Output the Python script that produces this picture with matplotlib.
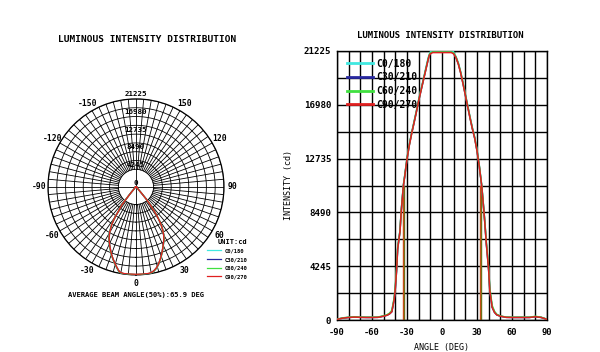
import numpy as np
import matplotlib
matplotlib.use("Agg")
import matplotlib.pyplot as plt

plt.rcParams['font.family'] = ['DejaVu Sans Mono']
plt.rcParams['font.weight'] = 'bold'

# photometric data (angle in deg, intensity in cd)
angles = [-90, -85, -80, -75, -70, -65, -60, -55, -50, -47, -45, -43, -41, -40,
          -39, -38, -37, -36, -35, -34, -33, -32, -30, -28, -26, -24, -22, -20,
          -18, -16, -14, -12, -11, -10, -8, -5, 0, 5, 8, 10, 11, 12, 14, 16, 18,
          20, 22, 24, 26, 28, 30, 32, 33, 34, 35, 36, 37, 38, 39, 40, 41, 43, 45,
          47, 50, 55, 60, 65, 70, 75, 80, 85, 90]

c0_180 = [60, 160, 210, 240, 220, 210, 210, 220, 320, 400, 500, 700, 1700, 2600,
          3900, 5700, 6400, 7100, 8600, 9700, 10750, 11400, 12800, 13900, 14800,
          15650, 16500, 17400, 18200, 19000, 19850, 20650, 20950, 21150, 21250,
          21250, 21250, 21250, 21250, 21150, 20950, 20800, 20300, 19600, 18750,
          17850, 16950, 16050, 15200, 14450, 13450, 12200, 11450, 10700, 9650,
          8600, 7400, 6100, 5100, 4000, 2400, 1050, 640, 430, 310, 220, 210, 210,
          210, 210, 270, 210, 60]
c30_210 = [50, 150, 200, 230, 210, 200, 200, 210, 300, 380, 480, 650, 1600, 2500,
           3800, 5600, 6300, 7000, 8500, 9600, 10650, 11300, 12700, 13800, 14720,
           15550, 16400, 17300, 18100, 18900, 19700, 20500, 20850, 21050, 21150,
           21150, 21150, 21150, 21150, 21050, 20850, 20700, 20200, 19500, 18650,
           17750, 16850, 15950, 15100, 14350, 13350, 12100, 11350, 10600, 9550,
           8500, 7300, 6000, 5000, 3900, 2300, 1000, 600, 400, 300, 210, 200, 200,
           200, 200, 260, 200, 50]
c60_240 = [60, 170, 220, 250, 230, 220, 220, 230, 330, 420, 540, 760, 1750, 2700,
           4000, 5750, 6350, 7050, 8550, 9650, 10700, 11350, 12750, 13850, 14750,
           15600, 16450, 17350, 18150, 18950, 19750, 20550, 20900, 21080, 21150,
           21150, 21150, 21150, 21150, 21080, 20900, 20750, 20250, 19550, 18700,
           17800, 16900, 16000, 15150, 14400, 13400, 12150, 11400, 10650, 9600,
           8550, 7400, 6150, 5150, 4050, 2500, 1150, 680, 440, 320, 230, 220, 220,
           220, 220, 290, 220, 60]
c90_270 = [50, 150, 200, 230, 210, 200, 200, 210, 300, 380, 480, 650, 1600, 2500,
           3800, 5600, 6300, 7000, 8500, 9600, 10650, 11300, 12700, 13800, 14720,
           15550, 16400, 17300, 18100, 18900, 19700, 20500, 20850, 21000, 21100,
           21100, 21100, 21100, 21100, 21000, 20850, 20700, 20200, 19500, 18650,
           17750, 16850, 15950, 15100, 14350, 13350, 12100, 11350, 10600, 9550,
           8500, 7300, 6000, 5000, 3900, 2300, 1000, 600, 400, 300, 210, 200, 200,
           200, 200, 260, 200, 50]

series_labels = ['C0/180', 'C30/210', 'C60/240', 'C90/270']
series_colors = ['#40e8e0', '#2828a0', '#40e040', '#e02020']

r_ticks = [4245, 8490, 12735, 16980, 21225]
r_max = 21225
polar_angle_labels = [-150, -120, -90, -60, -30, 0, 30, 60, 90, 120, 150]

beam_x = [-33.6, -33.0, 32.2, 33.0]
beam_colors = ['#d84818', '#707018', '#d84818', '#707018']
half_max = 10612

x_ticks = [-90, -60, -30, 0, 30, 60, 90]
beam_text = 'AVERAGE BEAM ANGLE(50%):65.9 DEG'

series = [c0_180, c30_210, c60_240, c90_270]

fig = plt.figure(figsize=(6.0, 3.52), dpi=100)

# ---------------- polar chart ----------------
axp = fig.add_axes([0.08, 0.219, 0.2933, 0.5], projection='polar')
axp.set_theta_zero_location('S')
axp.set_theta_direction(1)
axp.set_ylim(0, r_max)
axp.grid(False)
axp.set_xticks([])
axp.set_yticks([])
axp.spines['polar'].set_linewidth(0.9)

full = np.linspace(0, 2 * np.pi, 361)
rings = np.arange(2, 11) * r_max / 10
for r in rings:
    axp.plot(full, np.full_like(full, r), color='black', lw=0.6, zorder=1)
for a in range(0, 360, 5):
    t = np.deg2rad(a)
    axp.plot([t, t], [r_ticks[0], r_max], color='black', lw=0.6, zorder=1)
for a in (0, 90, 180, 270):
    t = np.deg2rad(a)
    axp.plot([t, t], [0, r_ticks[0]], color='black', lw=0.6, zorder=1)

theta = np.deg2rad(angles)
for vals, lab, col in zip(series, series_labels, series_colors):
    axp.plot(theta, vals, color=col, lw=1.0, label=lab, zorder=3)

for a in polar_angle_labels:
    axp.text(np.deg2rad(a), r_max * 1.1, str(a), ha='center', va='center',
             fontsize=5.8, clip_on=False)
for r in r_ticks:
    axp.text(np.pi, r + 1100, str(r), ha='center', va='center', fontsize=5.4,
             clip_on=False, zorder=4)
axp.text(np.pi, 900, '0', ha='center', va='center', fontsize=5.4, zorder=4)

leg = axp.legend(loc='upper left', bbox_to_anchor=(204 / 600, 1 - 236 / 352),
                 bbox_transform=fig.transFigure, frameon=False, fontsize=4.0,
                 title='UNIT:cd', title_fontproperties={'weight': 'bold', 'size': 5.0},
                 handlelength=2.6, handletextpad=0.6, labelspacing=0.65,
                 borderpad=0, alignment='right')
for line in leg.get_lines():
    line.set_linewidth(0.9)

fig.text(0.245, 1 - 39 / 352, 'LUMINOUS INTENSITY DISTRIBUTION', ha='center',
         va='center', fontsize=6.8)
fig.text(136 / 600, 1 - 295 / 352, beam_text, ha='center', va='center', fontsize=5.1)

# ---------------- cartesian chart ----------------
ax = fig.add_axes([337 / 600, 32 / 352, 210 / 600, 269 / 352])
for vals, lab, col in zip(series, series_labels, series_colors):
    ax.plot(angles, vals, color=col, lw=1.1, label=lab, zorder=3)
for bx, bc in zip(beam_x, beam_colors):
    ax.plot([bx, bx], [0, half_max], color=bc, lw=1.0, zorder=2)

ax.set_xlim(-90, 90)
ax.set_ylim(0, r_max)
ax.set_xticks(np.arange(-90, 91, 10))
ax.set_xticklabels([str(v) if v in x_ticks else '' for v in range(-90, 91, 10)])
ax.set_yticks(np.arange(11) * r_max / 10)
ax.set_yticklabels(['0' if i == 0 else (str(r_ticks[i // 2 - 1]) if i % 2 == 0 else '')
                    for i in range(11)])
ax.tick_params(length=0, labelsize=6.6, pad=4)
ax.tick_params(axis='x', labelsize=6.3, pad=6)
ax.grid(True, color='black', lw=1.0)
for s in ax.spines.values():
    s.set_linewidth(1.0)
ax.set_xlabel('ANGLE (DEG)', fontsize=6, labelpad=4)
ax.set_ylabel('INTENSITY (cd)', fontsize=6, labelpad=8)
fig.text(440 / 600, 1 - 35 / 352, 'LUMINOUS INTENSITY DISTRIBUTION', ha='center',
         va='center', fontsize=6.5)

leg2 = ax.legend(loc='upper left', bbox_to_anchor=(0.025, 0.99), frameon=False,
                 fontsize=7.0, handlelength=2.7, handletextpad=0.3,
                 labelspacing=0.38, borderpad=0)
for line in leg2.get_lines():
    line.set_linewidth(2.0)

fig.savefig('out.png', dpi=100, facecolor='white')
